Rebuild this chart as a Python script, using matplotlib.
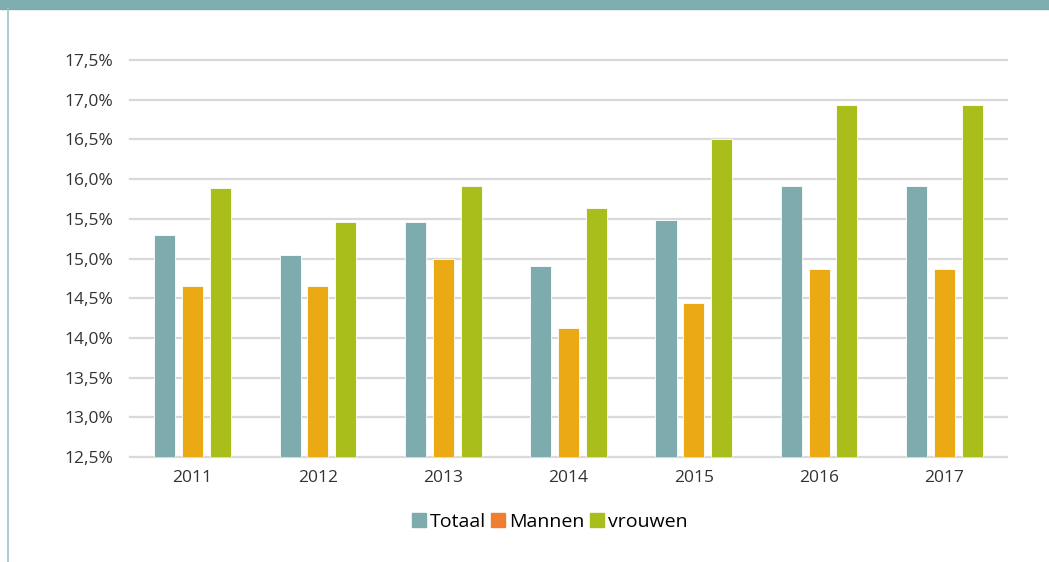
import matplotlib
matplotlib.use("Agg")
import matplotlib.pyplot as plt
from matplotlib.patches import Patch, Rectangle
from matplotlib.lines import Line2D
import numpy as np

years = ["2011", "2012", "2013", "2014", "2015", "2016", "2017"]
totaal = [15.30, 15.05, 15.46, 14.90, 15.48, 15.91, 15.91]
mannen = [14.65, 14.65, 15.00, 14.12, 14.44, 14.87, 14.87]
vrouwen = [15.89, 15.46, 15.91, 15.64, 16.50, 16.93, 16.93]
yticks = [12.5, 13.0, 13.5, 14.0, 14.5, 15.0, 15.5, 16.0, 16.5, 17.0, 17.5]

TEAL = "#7EABAD"
ORANGE = "#EBAA14"
GREEN = "#A9BD1B"
LEGEND_ORANGE = "#EF7E30"

plt.rcParams["font.family"] = ["Open Sans", "DejaVu Sans"]

fig = plt.figure(figsize=(10.49, 5.62), dpi=100)
ax = fig.add_axes([0.1239, 0.1868, 0.8361, 0.7064])

x = np.arange(len(years))
w, step = 0.168, 0.222
for off, vals, col in [(-step, totaal, TEAL), (0, mannen, ORANGE), (step, vrouwen, GREEN)]:
    ax.bar(x + off, np.array(vals) - 12.5, bottom=12.5, width=w, color=col,
           edgecolor="white", linewidth=0.6, zorder=3)

ax.set_xlim(-0.5, len(years) - 0.5)
ax.set_ylim(12.5, 17.5)
ax.set_yticks(yticks)
ax.set_yticklabels([f"{v:.1f}%".replace(".", ",") for v in yticks], fontsize=12.5, color="#333333")
ax.set_xticks(x)
ax.set_xticklabels(years, fontsize=12.5, color="#333333")
ax.tick_params(length=0, pad=12)
ax.tick_params(axis="x", pad=9)
ax.yaxis.grid(True, color="#D9D9D9", linewidth=1.6, zorder=0)
for gl in ax.get_ygridlines():
    gl.set_clip_on(False)
ax.set_axisbelow(True)
for s in ax.spines.values():
    s.set_visible(False)

handles = [Patch(color=TEAL), Patch(color=LEGEND_ORANGE), Patch(color=GREEN)]
fig.legend(handles, ["Totaal", "Mannen", "vrouwen"], loc="center", bbox_to_anchor=(0.524, 0.071),
           ncol=3, frameon=False, fontsize=14, handlelength=0.7, handleheight=0.7,
           handletextpad=0.2, columnspacing=0.3)

# header band and left rule
fig.add_artist(Rectangle((0, 1 - 9 / 562), 1, 9 / 562, transform=fig.transFigure,
                         color="#7EADAF", zorder=0))
fig.add_artist(Line2D([7.5 / 1049, 7.5 / 1049], [0, 1 - 9 / 562], transform=fig.transFigure,
                      color="#9FC3C5", linewidth=1.2))

fig.savefig("out.png", dpi=100)
